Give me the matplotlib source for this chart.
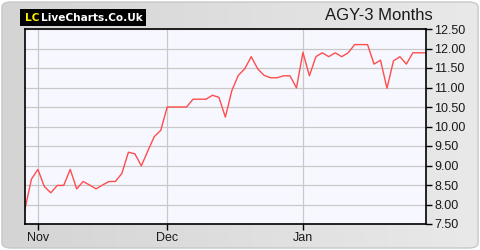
import numpy as np
import matplotlib as mpl
mpl.use("Agg")
import matplotlib.pyplot as plt
from matplotlib.patches import FancyBboxPatch

# closing prices, one per trading day
prices = [
    7.88, 8.65, 8.90, 8.46, 8.30, 8.49, 8.49, 8.90, 8.40, 8.59,
    8.50, 8.40, 8.50, 8.59, 8.59, 8.80, 9.34, 9.30, 8.99, 9.37,
    9.74, 9.90, 10.50, 10.50, 10.50, 10.50, 10.70, 10.70, 10.70, 10.80,
    10.75, 10.24, 10.92, 11.31, 11.48, 11.79, 11.48, 11.31, 11.25, 11.25,
    11.30, 11.30, 10.99, 11.90, 11.30, 11.79, 11.89, 11.79, 11.89, 11.79,
    11.89, 12.10, 12.10, 12.10, 11.60, 11.70, 10.98, 11.68, 11.79, 11.60,
    11.89, 11.89, 11.89,
]
month_labels = ["Nov", "Dec", "Jan"]
month_idx = [2, 22, 43]
y_ticks = [7.5, 8.0, 8.5, 9.0, 9.5, 10.0, 10.5, 11.0, 11.5, 12.0, 12.5]
title = "AGY-3 Months"

plt.rcParams["font.family"] = ["Liberation Sans", "DejaVu Sans"]

fig = plt.figure(figsize=(4.8, 2.5), dpi=100)
fig.patch.set_facecolor("white")

# grey gradient backdrop with rounded frame
bg = fig.add_axes([0, 0, 1, 1], zorder=-10)
bg.set_xlim(0, 1)
bg.set_ylim(0, 1)
bg.axis("off")
grad = np.linspace(0, 1, 256).reshape(1, -1)
img = bg.imshow(grad, extent=[0.004, 0.996, 0.008, 0.992], aspect="auto",
                cmap=mpl.colors.LinearSegmentedColormap.from_list("g", ["#d4d4d4", "#e9e9e9"]))
frame = FancyBboxPatch((0.004, 0.008), 0.992, 0.984,
                       boxstyle="round,pad=0,rounding_size=0.02",
                       fc="none", ec="#c8c8c8", lw=1, transform=bg.transAxes)
bg.add_patch(frame)
img.set_clip_path(frame)

ax = fig.add_axes([0.052, 0.104, 0.835, 0.78])
x = np.arange(len(prices))
ax.plot(x, prices, color="#ff4d4d", lw=1.0)
ax.set_facecolor("#f7f8ff")
ax.set_xlim(0, len(prices) - 1)
ax.set_ylim(7.5, 12.5)

ax.set_yticks(y_ticks)
ax.set_yticklabels([f"{v:.2f}" for v in y_ticks])
ax.yaxis.tick_right()
ax.set_xticks(month_idx)
ax.set_xticklabels(month_labels)
ax.tick_params(axis="both", direction="out", length=4, width=1, color="black",
               labelsize=9, labelcolor="#1a1a1a", pad=2)
ax.grid(True, color="#c8c8c8", lw=0.9)
for s in ax.spines.values():
    s.set_color("black")
    s.set_linewidth(1.2)

# logo
fig.patches.append(plt.Rectangle((20 / 480, 1 - 26 / 250), 126 / 480, 17 / 250,
                                 transform=fig.transFigure, fc="black", ec="none"))
name = fig.text(41 / 480, 1 - 17.5 / 250, "LiveCharts.Co.Uk", color="white", fontsize=9.5,
                family="DejaVu Sans", weight="bold", va="center", ha="left")

# shrink logo text to fit its box
renderer = fig.canvas.get_renderer()
ext = name.get_window_extent(renderer)
name.set_fontsize(name.get_fontsize() * 102 / ext.width)
fig.text(39 / 480, 1 - 17.5 / 250, "LC", color="#ffee00", fontsize=name.get_fontsize(),
         family="DejaVu Sans", weight="bold", va="center", ha="right")

fig.text(433 / 480, 1 - 16 / 250, title, fontsize=12, color="#1a1a1a",
         ha="right", va="center")

fig.savefig("out.png", dpi=100, facecolor=fig.get_facecolor())
